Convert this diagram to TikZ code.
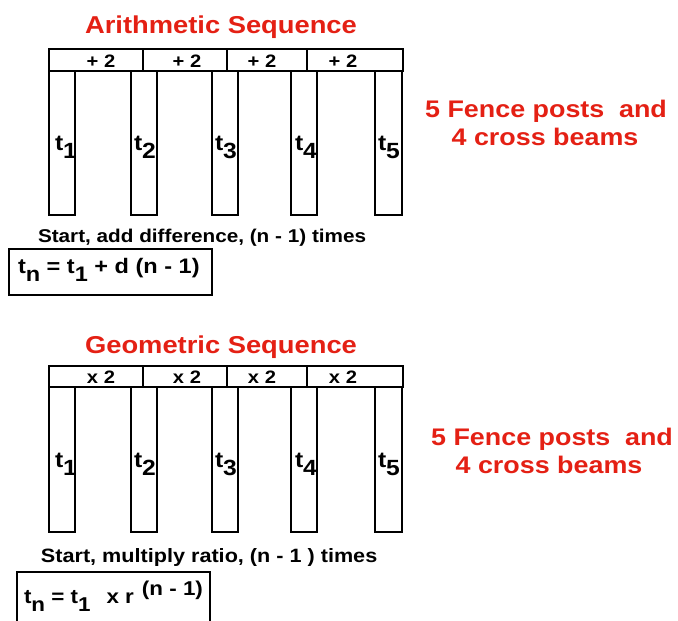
\documentclass[tikz,border=0pt]{standalone}
\usepackage{fontspec}
\setmainfont{Liberation Sans}[FakeStretch=1.12]
\definecolor{seqred}{RGB}{228,32,20}
\newcommand\lowsub[1]{\raisebox{-0.4em}{#1}}
\newcommand\highsup[1]{\raisebox{0.38em}{#1}}
\begin{document}
\begin{tikzpicture}[x=1pt,y=-1pt,line width=2pt,
  seqtitle/.style={font=\fontsize{24.4}{28}\selectfont\bfseries,text=seqred,inner sep=0,anchor=base},
  beamlbl/.style={font=\fontsize{18}{20}\selectfont\bfseries,inner sep=0},
  termlbl/.style={font=\fontsize{22}{24}\selectfont\bfseries,inner sep=0,anchor=base west},
  notetxt/.style={font=\fontsize{18.5}{22}\selectfont\bfseries,inner sep=0,anchor=base west},
  formtxt/.style={font=\fontsize{21}{24}\selectfont\bfseries,inner sep=0,anchor=base west},
  fencetxt/.style={font=\fontsize{24}{28}\selectfont\bfseries,text=seqred,inner sep=0,anchor=base},
  post/.style={draw=black,line width=2pt}]
\useasboundingbox (0,0) rectangle (678,621);

% ---------- Arithmetic ----------
\node[seqtitle] (atitle) at (221,33) {Arithmetic Sequence};
\draw[post] (49,49) rectangle (403,71);
\foreach \d in {143,227,307} \draw (\d,49) -- (\d,71);
\foreach \l/\r in {49/75,131/157,212/238,291/317,375/402}
  \draw[post] (\l,71) rectangle (\r,215);
\node[beamlbl] (ab1) at (101,61) {+ 2};
\node[beamlbl] (ab2) at (187,61) {+ 2};
\node[beamlbl] (ab3) at (262,61) {+ 2};
\node[beamlbl] (ab4) at (343,61) {+ 2};
\node[termlbl] (at1) at (54,150) {t\lowsub{1}};
\node[termlbl] (at2) at (133,150) {t\lowsub{2}};
\node[termlbl] (at3) at (214,150) {t\lowsub{3}};
\node[termlbl] (at4) at (294,150) {t\lowsub{4}};
\node[termlbl] (at5) at (377,150) {t\lowsub{5}};
\node[notetxt] (anote) at (37,242) {Start, add difference, (n - 1) times};
\draw (9,249) rectangle (212,295);
\node[formtxt] (aform) at (17,273) {t\lowsub{n} = t\lowsub{1} + d (n - 1)};
\node[fencetxt] (af1) at (546,117) {5 Fence posts\hspace{0.3em} and};
\node[fencetxt] (af2) at (545,145) {4 cross beams};

% ---------- Geometric ----------
\node[seqtitle] (gtitle) at (221,353) {Geometric Sequence};
\draw[post] (49,366) rectangle (403,387);
\foreach \d in {143,227,307} \draw (\d,366) -- (\d,387);
\foreach \l/\r in {49/75,131/157,212/238,291/317,375/402}
  \draw[post] (\l,387) rectangle (\r,532);
\node[beamlbl] (gb1) at (101,377) {x 2};
\node[beamlbl] (gb2) at (187,377) {x 2};
\node[beamlbl] (gb3) at (262,377) {x 2};
\node[beamlbl] (gb4) at (343,377) {x 2};
\node[termlbl] (gt1) at (54,467) {t\lowsub{1}};
\node[termlbl] (gt2) at (133,467) {t\lowsub{2}};
\node[termlbl] (gt3) at (214,467) {t\lowsub{3}};
\node[termlbl] (gt4) at (294,467) {t\lowsub{4}};
\node[termlbl] (gt5) at (377,467) {t\lowsub{5}};
\node[notetxt,font=\fontsize{19.3}{22}\selectfont\bfseries] (gnote) at (40,562) {Start, multiply ratio, (n - 1 ) times};
\draw (17,572) rectangle (210,626);
\node[formtxt,font=\fontsize{20}{24}\selectfont\bfseries] (gform) at (23,603) {t\lowsub{n} = t\lowsub{1}\hspace{0.8em}x r\hspace{0.4em}\highsup{(n - 1)}};
\node[fencetxt] (gf1) at (552,445) {5 Fence posts\hspace{0.3em} and};
\node[fencetxt] (gf2) at (549,473) {4 cross beams};
\end{tikzpicture}
\end{document}
